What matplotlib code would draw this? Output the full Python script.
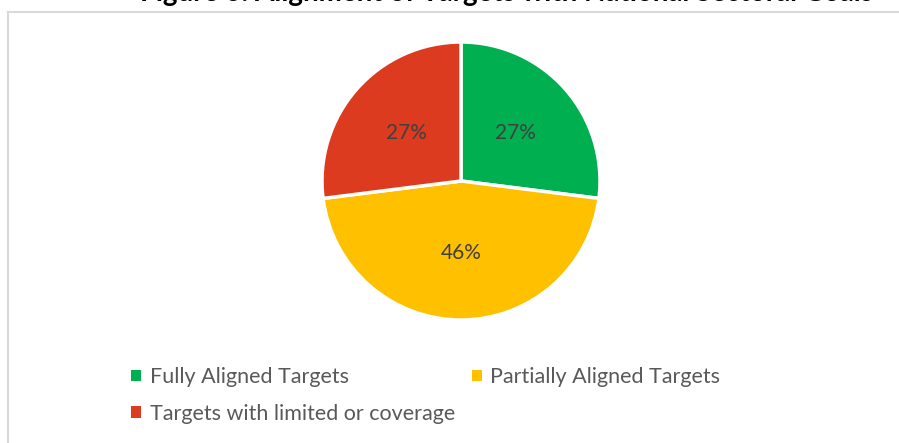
import matplotlib.pyplot as plt
from matplotlib.lines import Line2D
from matplotlib.patches import Patch

plt.rcParams['font.family'] = ['Lato', 'DejaVu Sans']

categories = ['Fully Aligned Targets', 'Partially Aligned Targets', 'Targets with limited or coverage']
shares = [27, 46, 27]
colors = ['#00B050', '#FFC000', '#DC3B1F']
title = 'Figure 6: Alignment of Targets with National Sectoral Goals'

W, H = 899, 443
fig = plt.figure(figsize=(W / 100, H / 100), dpi=100)

# chart frame (cropped at top/right/bottom in the reference)
fig.add_artist(Line2D([8 / W, 8 / W], [0, 1 - 12 / H], color='#D9D9D9', lw=1.5, transform=fig.transFigure))
fig.add_artist(Line2D([8 / W, 1], [1 - 12 / H, 1 - 12 / H], color='#D9D9D9', lw=1.5, transform=fig.transFigure))

# title, mostly cut off at the top edge like in the reference
fig.text(140 / W, 1 - 1 / H, title, ha='left', va='baseline', fontsize=20,
         fontweight='bold', color='#000000')

cx, cy, r = 461, 181, 139
ax = fig.add_axes([(cx - r) / W, 1 - (cy + r) / H, 2 * r / W, 2 * r / H])
wedges, texts, autotexts = ax.pie(
    shares, colors=colors, startangle=90, counterclock=False,
    autopct='%d%%', pctdistance=0.52,
    wedgeprops=dict(edgecolor='white', linewidth=2.5),
    textprops=dict(fontsize=15, color='#404040'))
ax.set_aspect('equal')
ax.set_xlim(-1.0, 1.0)
ax.set_ylim(-1.0, 1.0)

# legend filled row by row: matplotlib fills columns, so reorder
order = [0, 2, 1]
handles = [Patch(facecolor=colors[i], edgecolor='none') for i in order]
labels = [categories[i] for i in order]
fig.legend(handles, labels, ncol=2, loc='upper left',
           bbox_to_anchor=(112 / W, 1 - 348 / H), frameon=False,
           fontsize=15.5, labelcolor='#595959', handlelength=0.45, handleheight=0.45,
           handletextpad=0.4, columnspacing=0.8, labelspacing=0.75)

fig.savefig('out.png', dpi=100)
